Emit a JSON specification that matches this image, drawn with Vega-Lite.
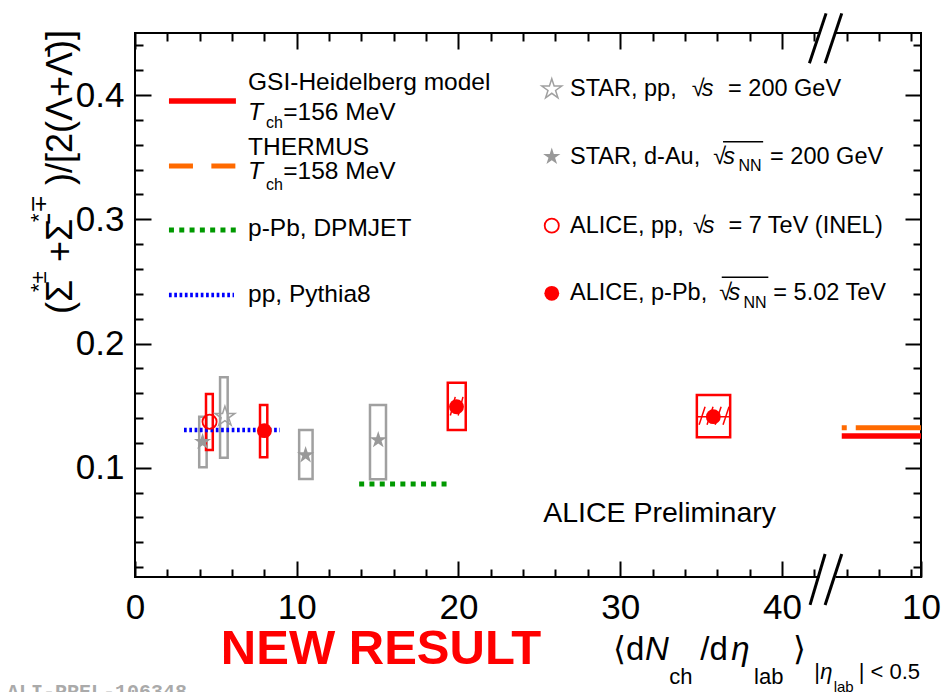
{
 "$schema": "https://vega.github.io/schema/vega-lite/v6.json",
 "width": 786, "height": 544, "autosize": "none",
 "padding": {"left": 135, "top": 33, "right": 26, "bottom": 115},
 "background": "white",
 "config": {"view": {"stroke": "black", "strokeWidth": 2}, "font": "Liberation Sans"},
 "datasets": {
  "boxes": [
   {"exp": "STAR", "x": 5.26, "x2": 5.73, "y": 0.108, "y2": 0.1728},
   {"exp": "STAR", "x": 3.97, "x2": 4.43, "y": 0.1003, "y2": 0.1411},
   {"exp": "STAR", "x": 10.15, "x2": 10.98, "y": 0.0909, "y2": 0.1304},
   {"exp": "STAR", "x": 14.53, "x2": 15.52, "y": 0.0907, "y2": 0.1505},
   {"exp": "ALICE", "x": 4.39, "x2": 4.81, "y": 0.1143, "y2": 0.1594},
   {"exp": "ALICE", "x": 7.73, "x2": 8.18, "y": 0.1084, "y2": 0.1505},
   {"exp": "ALICE", "x": 19.34, "x2": 20.45, "y": 0.1304, "y2": 0.1684},
   {"exp": "ALICE", "x": 34.74, "x2": 36.8, "y": 0.1245, "y2": 0.1585}
  ],
  "hatch": [
   {"x": 34.88, "x2": 35.25, "y": 0.1345, "y2": 0.149},
   {"x": 35.37, "x2": 35.74, "y": 0.1345, "y2": 0.149},
   {"x": 35.87, "x2": 36.24, "y": 0.1345, "y2": 0.149},
   {"x": 36.36, "x2": 36.73, "y": 0.1345, "y2": 0.149},
   {"x": 19.5, "x2": 19.8, "y": 0.142, "y2": 0.157},
   {"x": 19.98, "x2": 20.28, "y": 0.142, "y2": 0.157}
  ],
  "hatchLine": [{"x": 34.74, "x2": 36.8, "y": 0.1411}],
  "models": [
   {"model": "GSI", "where": "plot", "x": 43.7, "x2": 48.6, "y": 0.1255},
   {"model": "GSI", "where": "legend", "x": 2.1, "x2": 6.24, "y": 0.3952},
   {"model": "THERMUS", "where": "plot", "x": 43.7, "x2": 48.6, "y": 0.1322},
   {"model": "THERMUS", "where": "legend", "x": 2.1, "x2": 6.24, "y": 0.3429},
   {"model": "DPMJET", "where": "plot", "x": 13.86, "x2": 19.57, "y": 0.0869},
   {"model": "DPMJET", "where": "legend", "x": 2.1, "x2": 6.24, "y": 0.2914},
   {"model": "Pythia8", "where": "plot", "x": 3.03, "x2": 8.96, "y": 0.1304},
   {"model": "Pythia8", "where": "legend", "x": 2.1, "x2": 6.12, "y": 0.2391}
  ],
  "starpp": [{"x": 5.56, "y": 0.1411}, {"x": 25.77, "y": 0.4047}],
  "stardau": [{"x": 4.18, "y": 0.1209}, {"x": 10.55, "y": 0.1102}, {"x": 15.04, "y": 0.1223}, {"x": 25.77, "y": 0.3504}],
  "alicepp": [{"x": 4.61, "y": 0.137}, {"x": 25.77, "y": 0.2949}],
  "alicepb": [{"x": 8.0, "y": 0.1298}, {"x": 19.88, "y": 0.1491}, {"x": 35.76, "y": 0.1411}, {"x": 25.77, "y": 0.2404}],
  "gaps": [{"x": 42.32, "x2": 43.32, "y": 0.45}, {"x": 42.32, "x2": 43.32, "y": 0.012}],
  "breaks": [
   {"x": 41.70, "x2": 42.73, "y": 0.4256, "y2": 0.4658},
   {"x": 42.67, "x2": 43.70, "y": 0.4256, "y2": 0.4658},
   {"x": 41.74, "x2": 42.67, "y": -0.0105, "y2": 0.0305},
   {"x": 42.67, "x2": 43.70, "y": -0.0105, "y2": 0.0305}
  ],
  "overlines": [{"x": 36.36, "x2": 38.84, "y": 0.3625}, {"x": 36.28, "x2": 39.16, "y": 0.2533}],
  "legendText": [
   {"text": "GSI-Heidelberg model", "x": 6.99, "y": 0.4101},
   {"text": "=156 MeV", "x": 9.17, "y": 0.3856},
   {"text": "THERMUS", "x": 6.99, "y": 0.3572},
   {"text": "=158 MeV", "x": 9.17, "y": 0.3383},
   {"text": "p-Pb, DPMJET", "x": 6.99, "y": 0.2919},
   {"text": "pp, Pythia8", "x": 6.99, "y": 0.2390}
  ],
  "legendTextR": [
   {"text": "STAR, pp,", "x": 26.9, "y": 0.4047},
   {"text": "√", "x": 34.43, "y": 0.4047},
   {"text": "= 200 GeV", "x": 36.67, "y": 0.4047},
   {"text": "STAR, d-Au,", "x": 26.9, "y": 0.3504},
   {"text": "√", "x": 35.76, "y": 0.3504},
   {"text": "= 200 GeV", "x": 39.27, "y": 0.3504},
   {"text": "ALICE, pp,", "x": 26.9, "y": 0.2949},
   {"text": "√", "x": 34.5, "y": 0.2949},
   {"text": "= 7 TeV (INEL)", "x": 36.69, "y": 0.2949},
   {"text": "ALICE, p-Pb,", "x": 26.9, "y": 0.2404},
   {"text": "√", "x": 36.13, "y": 0.2404},
   {"text": "= 5.02 TeV", "x": 39.47, "y": 0.2404}
  ],
  "legendItalic": [
   {"text": "T", "x": 6.99, "y": 0.3856},
   {"text": "T", "x": 6.99, "y": 0.3383}
  ],
  "legendItalicR": [
   {"text": "s", "x": 35.05, "y": 0.4047},
   {"text": "s", "x": 36.38, "y": 0.3504},
   {"text": "s", "x": 35.1, "y": 0.2949},
   {"text": "s", "x": 36.69, "y": 0.2404}
  ],
  "legendSub": [
   {"text": "ch", "x": 8.1, "y": 0.3775},
   {"text": "ch", "x": 8.1, "y": 0.3276},
   {"text": "NN", "x": 37.31, "y": 0.3429},
   {"text": "NN", "x": 37.62, "y": 0.233}
  ],
  "yTitleMain": [
   {"text": "(Σ", "x": -3.9, "y": 0.2238},
   {"text": "+Σ̄", "x": -3.9, "y": 0.2656},
   {"text": ")/[2(Λ+Λ̄)]", "x": -3.9, "y": 0.3276}
  ],
  "yTitleSup": [
   {"text": "*±", "x": -5.5, "y": 0.2415},
   {"text": "*∓", "x": -5.5, "y": 0.2979}
  ],
  "xTitleMain": [
   {"text": "⟨d", "x": 29.56, "y": -0.0548},
   {"text": "/d", "x": 34.95, "y": -0.0548},
   {"text": "⟩", "x": 40.7, "y": -0.0548}
  ],
  "xTitleItalic": [
   {"text": "N", "x": 31.54, "y": -0.0548},
   {"text": "η", "x": 36.86, "y": -0.0548}
  ],
  "xTitleSub": [
   {"text": "ch", "x": 33.03, "y": -0.0742},
   {"text": "lab", "x": 38.28, "y": -0.0742},
   {"text": "|", "x": 42.0, "y": -0.0701},
   {"text": "| < 0.5", "x": 44.75, "y": -0.0701}
  ],
  "xTitleSubItalic": [{"text": "η", "x": 42.37, "y": -0.0701}],
  "xTitleSubSub": [{"text": "lab", "x": 43.2, "y": -0.0806}],
  "prelim": [{"text": "ALICE Preliminary", "x": 25.24, "y": 0.0635}],
  "newresult": [{"text": "NEW RESULT", "x": 15.21, "y": -0.046}],
  "figid": [{"text": "ALI-PREL-106348", "x": -7.92, "y": -0.0854}]
 },
 "encoding": {
  "x": {"field": "x", "type": "quantitative", "scale": {"domain": [0, 48.6], "nice": false, "zero": false}, "axis": null},
  "y": {"field": "y", "type": "quantitative", "scale": {"domain": [0.012, 0.45], "nice": false, "zero": false}, "axis": null}
 },
 "layer": [
  {"data": {"name": "boxes"}, "mark": {"type": "point", "opacity": 0},
   "encoding": {
    "x": {"field": "x", "type": "quantitative", "scale": {"domain": [0, 48.6], "nice": false, "zero": false},
     "axis": {"orient": "bottom", "values": [0, 10, 20, 30, 40, 48.6], "labelExpr": "datum.value > 48 ? '10' : datum.label", "tickSize": 16, "offset": -16, "tickWidth": 2, "tickColor": "black", "domain": false, "grid": false, "labelFontSize": 35, "labelFont": "Liberation Sans", "labelColor": "black", "labelPadding": 13, "labelFlush": false, "labelOverlap": false, "title": null}},
    "y": {"field": "y", "type": "quantitative", "scale": {"domain": [0.012, 0.45], "nice": false, "zero": false},
     "axis": {"orient": "left", "values": [0.1, 0.2, 0.3, 0.4], "format": ".1f", "tickSize": 16, "offset": -16, "tickWidth": 2, "tickColor": "black", "domain": false, "grid": false, "labelFontSize": 35, "labelFont": "Liberation Sans", "labelColor": "black", "labelPadding": 11, "labelFlush": false, "labelOverlap": false, "title": null}}
   }},
  {"data": {"name": "boxes"}, "mark": {"type": "point", "opacity": 0},
   "encoding": {
    "x": {"field": "x", "type": "quantitative", "scale": {"domain": [0, 48.6], "nice": false, "zero": false},
     "axis": {"orient": "bottom", "values": [2, 4, 6, 8, 12, 14, 16, 18, 22, 24, 26, 28, 32, 34, 36, 38, 42, 44, 46, 48], "labels": false, "tickSize": 8, "offset": -8, "tickWidth": 2, "tickColor": "black", "domain": false, "grid": false, "title": null}},
    "y": {"field": "y", "type": "quantitative", "scale": {"domain": [0.012, 0.45], "nice": false, "zero": false},
     "axis": {"orient": "left", "values": [0.02, 0.04, 0.06, 0.08, 0.12, 0.14, 0.16, 0.18, 0.22, 0.24, 0.26, 0.28, 0.32, 0.34, 0.36, 0.38, 0.42, 0.44], "labels": false, "tickSize": 8, "offset": -8, "tickWidth": 2, "tickColor": "black", "domain": false, "grid": false, "title": null}}
   }},
  {"data": {"name": "boxes"}, "mark": {"type": "point", "opacity": 0},
   "encoding": {
    "x": {"field": "x", "type": "quantitative", "scale": {"domain": [0, 48.6], "nice": false, "zero": false},
     "axis": {"orient": "top", "values": [0, 10, 20, 30, 40], "labels": false, "tickSize": 16, "offset": -16, "tickWidth": 2, "tickColor": "black", "domain": false, "grid": false, "title": null}},
    "y": {"field": "y", "type": "quantitative", "scale": {"domain": [0.012, 0.45], "nice": false, "zero": false},
     "axis": {"orient": "right", "values": [0.1, 0.2, 0.3, 0.4], "labels": false, "tickSize": 16, "offset": -16, "tickWidth": 2, "tickColor": "black", "domain": false, "grid": false, "title": null}}
   }},
  {"data": {"name": "boxes"}, "mark": {"type": "point", "opacity": 0},
   "encoding": {
    "x": {"field": "x", "type": "quantitative", "scale": {"domain": [0, 48.6], "nice": false, "zero": false},
     "axis": {"orient": "top", "values": [2, 4, 6, 8, 12, 14, 16, 18, 22, 24, 26, 28, 32, 34, 36, 38, 42, 44, 46, 48], "labels": false, "tickSize": 8, "offset": -8, "tickWidth": 2, "tickColor": "black", "domain": false, "grid": false, "title": null}},
    "y": {"field": "y", "type": "quantitative", "scale": {"domain": [0.012, 0.45], "nice": false, "zero": false},
     "axis": {"orient": "right", "values": [0.02, 0.04, 0.06, 0.08, 0.12, 0.14, 0.16, 0.18, 0.22, 0.24, 0.26, 0.28, 0.32, 0.34, 0.36, 0.38, 0.42, 0.44], "labels": false, "tickSize": 8, "offset": -8, "tickWidth": 2, "tickColor": "black", "domain": false, "grid": false, "title": null}}
   }},
  {"data": {"name": "boxes"}, "mark": {"type": "rect", "filled": false, "strokeWidth": 2.5},
   "encoding": {"x2": {"field": "x2"}, "y2": {"field": "y2"},
    "color": {"field": "exp", "type": "nominal", "scale": {"domain": ["STAR", "ALICE"], "range": ["#a0a0a0", "#ff0000"]}, "legend": null}}},
  {"data": {"name": "hatch"}, "mark": {"type": "rule", "color": "#ff0000", "strokeWidth": 1.5}, "encoding": {"x2": {"field": "x2"}, "y2": {"field": "y2"}}},
  {"data": {"name": "hatchLine"}, "mark": {"type": "rule", "color": "#ff0000", "strokeWidth": 1.5}, "encoding": {"x2": {"field": "x2"}}},
  {"data": {"name": "gaps"}, "mark": {"type": "rule", "color": "white", "strokeWidth": 5}, "encoding": {"x2": {"field": "x2"}}},
  {"data": {"name": "breaks"}, "mark": {"type": "rule", "color": "black", "strokeWidth": 3}, "encoding": {"x2": {"field": "x2"}, "y2": {"field": "y2"}}},
  {"data": {"name": "models"}, "transform": [{"filter": "datum.model == 'Pythia8'"}], "mark": {"type": "rule", "color": "#0000ff", "strokeWidth": 4.5, "strokeDash": [2.7, 2.6]}, "encoding": {"x2": {"field": "x2"}}},
  {"data": {"name": "models"}, "transform": [{"filter": "datum.model == 'DPMJET'"}], "mark": {"type": "rule", "color": "#009900", "strokeWidth": 5, "strokeDash": [5, 5.3]}, "encoding": {"x2": {"field": "x2"}}},
  {"data": {"name": "models"}, "transform": [{"filter": "datum.model == 'GSI'"}], "mark": {"type": "rule", "color": "#ff0000", "strokeWidth": 5.5}, "encoding": {"x2": {"field": "x2"}}},
  {"data": {"name": "models"}, "transform": [{"filter": "datum.model == 'THERMUS' && datum.where == 'plot'"}], "mark": {"type": "rule", "color": "#ff6a00", "strokeWidth": 5, "strokeDash": [5, 9, 90, 9]}, "encoding": {"x2": {"field": "x2"}}},
  {"data": {"name": "models"}, "transform": [{"filter": "datum.model == 'THERMUS' && datum.where == 'legend'"}], "mark": {"type": "rule", "color": "#ff6a00", "strokeWidth": 5, "strokeDash": [24, 18.4]}, "encoding": {"x2": {"field": "x2"}}},
  {"data": {"name": "starpp"}, "mark": {"type": "point", "shape": "M0,-1L0.2245,-0.309L0.951,-0.309L0.363,0.118L0.588,0.809L0,0.382L-0.588,0.809L-0.363,0.118L-0.951,-0.309L-0.2245,-0.309Z", "filled": false, "color": "#a0a0a0", "strokeWidth": 1.5, "size": 440, "opacity": 1}},
  {"data": {"name": "stardau"}, "mark": {"type": "point", "shape": "M0,-1L0.2245,-0.309L0.951,-0.309L0.363,0.118L0.588,0.809L0,0.382L-0.588,0.809L-0.363,0.118L-0.951,-0.309L-0.2245,-0.309Z", "filled": true, "color": "#999999", "opacity": 1, "size": 330}},
  {"data": {"name": "alicepp"}, "mark": {"type": "point", "shape": "circle", "filled": false, "color": "#ff0000", "strokeWidth": 1.8, "opacity": 1, "size": 200}},
  {"data": {"name": "alicepb"}, "mark": {"type": "point", "shape": "circle", "filled": true, "color": "#ff0000", "opacity": 1, "size": 220}},
  {"data": {"name": "overlines"}, "mark": {"type": "rule", "color": "black", "strokeWidth": 1.5}, "encoding": {"x2": {"field": "x2"}}},
  {"data": {"name": "legendText"}, "mark": {"type": "text", "align": "left", "baseline": "middle", "fontSize": 24.5, "font": "Liberation Sans", "color": "black"}, "encoding": {"text": {"field": "text"}}},
  {"data": {"name": "legendTextR"}, "mark": {"type": "text", "align": "left", "baseline": "middle", "fontSize": 23.5, "font": "Liberation Sans", "color": "black"}, "encoding": {"text": {"field": "text"}}},
  {"data": {"name": "legendItalic"}, "mark": {"type": "text", "align": "left", "baseline": "middle", "fontSize": 24.5, "fontStyle": "italic", "font": "Liberation Sans", "color": "black"}, "encoding": {"text": {"field": "text"}}},
  {"data": {"name": "legendItalicR"}, "mark": {"type": "text", "align": "left", "baseline": "middle", "fontSize": 23.5, "fontStyle": "italic", "font": "Liberation Sans", "color": "black"}, "encoding": {"text": {"field": "text"}}},
  {"data": {"name": "legendSub"}, "mark": {"type": "text", "align": "left", "baseline": "middle", "fontSize": 16, "font": "Liberation Sans", "color": "black"}, "encoding": {"text": {"field": "text"}}},
  {"data": {"name": "yTitleMain"}, "mark": {"type": "text", "align": "left", "baseline": "alphabetic", "angle": 270, "fontSize": 36, "font": "Liberation Sans", "color": "black"}, "encoding": {"text": {"field": "text"}}},
  {"data": {"name": "yTitleSup"}, "mark": {"type": "text", "align": "left", "baseline": "alphabetic", "angle": 270, "fontSize": 22, "font": "Liberation Sans", "color": "black"}, "encoding": {"text": {"field": "text"}}},
  {"data": {"name": "xTitleMain"}, "mark": {"type": "text", "align": "left", "baseline": "alphabetic", "fontSize": 33, "font": "Liberation Sans", "color": "black"}, "encoding": {"text": {"field": "text"}}},
  {"data": {"name": "xTitleItalic"}, "mark": {"type": "text", "align": "left", "baseline": "alphabetic", "fontSize": 33, "fontStyle": "italic", "font": "Liberation Sans", "color": "black"}, "encoding": {"text": {"field": "text"}}},
  {"data": {"name": "xTitleSub"}, "mark": {"type": "text", "align": "left", "baseline": "alphabetic", "fontSize": 22, "font": "Liberation Sans", "color": "black"}, "encoding": {"text": {"field": "text"}}},
  {"data": {"name": "xTitleSubItalic"}, "mark": {"type": "text", "align": "left", "baseline": "alphabetic", "fontSize": 22, "fontStyle": "italic", "font": "Liberation Sans", "color": "black"}, "encoding": {"text": {"field": "text"}}},
  {"data": {"name": "xTitleSubSub"}, "mark": {"type": "text", "align": "left", "baseline": "alphabetic", "fontSize": 15, "font": "Liberation Sans", "color": "black"}, "encoding": {"text": {"field": "text"}}},
  {"data": {"name": "prelim"}, "mark": {"type": "text", "align": "left", "baseline": "middle", "fontSize": 28.5, "font": "Liberation Sans", "color": "black"}, "encoding": {"text": {"field": "text"}}},
  {"data": {"name": "newresult"}, "mark": {"type": "text", "align": "center", "baseline": "middle", "fontSize": 49, "fontWeight": "bold", "font": "Liberation Sans", "color": "#ff0000"}, "encoding": {"text": {"field": "text"}}},
  {"data": {"name": "figid"}, "mark": {"type": "text", "align": "left", "baseline": "alphabetic", "fontSize": 20, "fontWeight": "bold", "font": "Liberation Mono", "color": "#aaaaaa"}, "encoding": {"text": {"field": "text"}}}
 ],
 "resolve": {"axis": {"x": "independent", "y": "independent"}}
}
